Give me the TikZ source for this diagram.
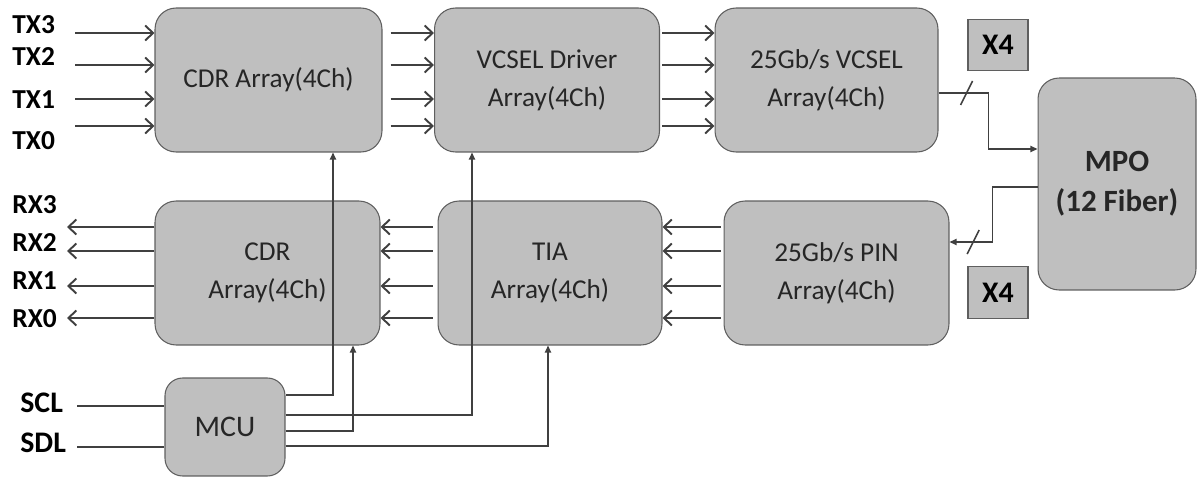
\documentclass[tikz,border=0pt]{standalone}
\usepackage{fontspec}
\setmainfont{Carlito}
\usetikzlibrary{arrows.meta,calc}
\definecolor{boxfill}{HTML}{BFBFBF}
\definecolor{boxline}{HTML}{5F5F5F}
\definecolor{wire}{HTML}{404040}
\definecolor{ink}{HTML}{262626}
\tikzset{
	box/.style={draw=boxline, fill=boxfill, line width=0.6pt, rounded corners=12pt, align=center, text=ink, inner sep=0pt, font=\fontsize{15.5}{21.5}\selectfont},
	xbox/.style={draw=boxline, fill=boxfill, line width=0.6pt, inner sep=0pt, minimum width=1.2cm, minimum height=1.03cm, font=\bfseries\fontsize{17}{20}\selectfont},
	tag/.style={anchor=base west, inner sep=0pt, font=\bfseries\fontsize{15.6}{18}\selectfont},
	sig/.style={draw=wire, line width=1.1pt, -{Straight Barb[length=4.5pt,width=8.5pt]}},
	ctl/.style={draw=wire, line width=0.85pt, -{Triangle[length=4pt,width=3.5pt]}},
	wireline/.style={draw=wire, line width=0.9pt}
}
\begin{document}
\begin{tikzpicture}[x=0.02cm,y=-0.02cm]
	\useasboundingbox (0,0) rectangle (1197,477);
	% blocks
	\node[box, minimum width=4.54cm, minimum height=2.88cm] (cdrtx) at (268.5,80) {CDR Array(4Ch)};
	\node[box, minimum width=4.5cm, minimum height=2.88cm] (drv) at (547,80) {VCSEL Driver\\Array(4Ch)};
	\node[box, minimum width=4.46cm, minimum height=2.88cm] (vcsel) at (826.5,80) {25Gb/s VCSEL\\Array(4Ch)};
	\node[box, minimum width=4.5cm, minimum height=2.88cm] (cdrrx) at (267.5,273) {CDR\\Array(4Ch)};
	\node[box, minimum width=4.48cm, minimum height=2.88cm] (tia) at (550,273) {TIA\\Array(4Ch)};
	\node[box, minimum width=4.5cm, minimum height=2.88cm] (pin) at (836.5,273) {25Gb/s PIN\\Array(4Ch)};
	\node[box, minimum width=3.16cm, minimum height=4.24cm, font=\bfseries\fontsize{17.6}{22.7}\selectfont] (mpo) at (1117,184) {MPO\\(12 Fiber)};
	\node[box, minimum width=2.4cm, minimum height=1.96cm, rounded corners=10pt, font=\fontsize{17}{20}\selectfont] (mcu) at (225,427) {MCU};
	\node[xbox] (xtx) at (998,45) {X4};
	\node[xbox] (xrx) at (998,292.5) {X4};
	% pin names
	\node[tag] (tx3) at (12,33) {TX3};
	\node[tag] (tx2) at (12,65) {TX2};
	\node[tag] (tx1) at (12,108) {TX1};
	\node[tag] (tx0) at (12,149) {TX0};
	\node[tag] (rx3) at (12,213) {RX3};
	\node[tag] (rx2) at (12,251) {RX2};
	\node[tag] (rx1) at (12,289) {RX1};
	\node[tag] (rx0) at (12,327) {RX0};
	\node[tag, font=\bfseries\fontsize{17}{20}\selectfont] (scl) at (20,412) {SCL};
	\node[tag, font=\bfseries\fontsize{17}{20}\selectfont] (sdl) at (20,452) {SDL};
	% transmit lanes
	\foreach \row/\y in {3/33,2/65,1/99,0/126} {
		\coordinate (txin\row) at (75,\y);
		\draw[sig] (txin\row) -- (txin\row -| cdrtx.west);
		\draw[sig] ($(txin\row -| cdrtx.east)+(8,0)$) -- (txin\row -| drv.west);
		\draw[sig] ($(txin\row -| drv.east)+(2,0)$) -- (txin\row -| vcsel.west);
	}
	% receive lanes
	\foreach \row/\y in {3/227,2/251,1/286,0/318} {
		\coordinate (rxout\row) at (67,\y);
		\draw[sig] (rxout\row -| cdrrx.west) -- (rxout\row);
		\draw[sig] ($(rxout\row -| tia.west)+(-5,0)$) -- (rxout\row -| cdrrx.east);
		\draw[sig] ($(rxout\row -| pin.west)+(-3,0)$) -- (rxout\row -| tia.east);
	}
	% i2c bus
	\coordinate (sclin) at (77,406);
	\coordinate (sdlin) at (77,447);
	\draw[wireline] (sclin) -- (sclin -| mcu.west);
	\draw[wireline] (sdlin) -- (sdlin -| mcu.west);
	% control
	\draw[ctl] (mcu.east |- 0,395) -| (cdrtx.south -| 333,0);
	\draw[ctl] (mcu.east |- 0,415) -| (drv.south -| 472,0);
	\draw[ctl] (mcu.east |- 0,431) -| (cdrrx.south -| 353,0);
	\draw[ctl] (mcu.east |- 0,446) -| (tia.south -| 548,0);
	% fibers
	\draw[ctl] (vcsel.east |- 0,93) -- coordinate[pos=0.56] (cuttx) ++(50,0) |- (mpo.west |- 0,149);
	\draw[wireline] (cuttx) +(-6,12) -- +(6,-12);
	\draw[ctl] (mpo.west |- 0,187) -- ++(-45,0) -- ++(0,55) -- coordinate[pos=0.45] (cutrx) (pin.east |- 0,242);
	\draw[wireline] (cutrx) +(-6,12) -- +(6,-12);
\end{tikzpicture}
\end{document}
